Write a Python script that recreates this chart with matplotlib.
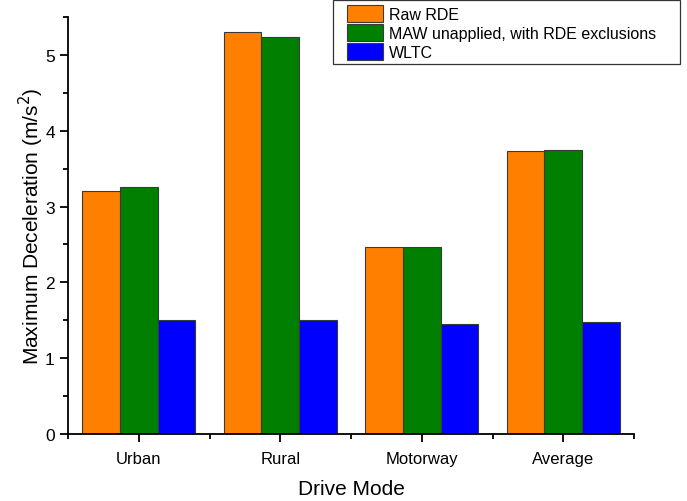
import matplotlib
matplotlib.use("Agg")
import matplotlib.pyplot as plt
import numpy as np
from matplotlib.ticker import MultipleLocator, FixedLocator
from matplotlib.patches import Rectangle

categories = ["Urban", "Rural", "Motorway", "Average"]
raw_rde = [3.20, 5.30, 2.47, 3.73]
maw_unapplied = [3.26, 5.23, 2.47, 3.74]
wltc = [1.50, 1.50, 1.45, 1.48]
series_names = ["Raw RDE", "MAW unapplied, with RDE exclusions", "WLTC"]
colors = ["#FF8000", "#007F00", "#0000FF"]

plt.rcParams['font.family'] = ['Liberation Sans', 'DejaVu Sans']

W, H = 687, 502
fig = plt.figure(figsize=(W/100, H/100), dpi=100)
ax = fig.add_axes([68/W, 1-435/H, (634-68)/W, (435-18)/H])

x = np.arange(len(categories))
w = 0.8/3
handles = []
for i, (vals, c, name) in enumerate(zip([raw_rde, maw_unapplied, wltc], colors, series_names)):
    h = ax.bar(x + (i-1)*w, vals, width=w, color=c, edgecolor='#3a3a3a', linewidth=0.8, label=name)
    handles.append(h)

ax.set_xlim(-0.5, 3.5)
ax.set_ylim(0, 5.5)
ax.set_xticks(x)
ax.set_xticklabels(categories, fontsize=12)
ax.xaxis.set_minor_locator(FixedLocator([-0.5, 0.5, 1.5, 2.5, 3.5]))
ax.yaxis.set_major_locator(MultipleLocator(1))
ax.yaxis.set_minor_locator(MultipleLocator(0.5))
ax.tick_params(axis='y', labelsize=12.5, pad=4)
ax.tick_params(axis='x', pad=7)
ax.tick_params(which='major', length=5.5, width=1.3, direction='out')
ax.tick_params(which='minor', length=3.5, width=1.3, direction='out')
for s in ['top', 'right']:
    ax.spines[s].set_visible(False)
for s in ['left', 'bottom']:
    ax.spines[s].set_linewidth(1.3)

ax.set_xlabel("Drive Mode", fontsize=15, labelpad=9)
ax.set_ylabel("Maximum Deceleration (m/s$^2$)", fontsize=15, labelpad=-1)

leg = fig.legend(handles=handles, loc='upper left', bbox_to_anchor=(347/W, 1-6/H),
                 fontsize=11.5, frameon=False, handlelength=2.25, handleheight=1.25,
                 borderpad=0, borderaxespad=0, labelspacing=0.14, handletextpad=0.37)
fig.patches.append(Rectangle((333/W, 1-65/H), 347/W, 64/H, transform=fig.transFigure,
                             fill=False, edgecolor='#333333', linewidth=0.9))

fig.savefig("out.png", dpi=100)
